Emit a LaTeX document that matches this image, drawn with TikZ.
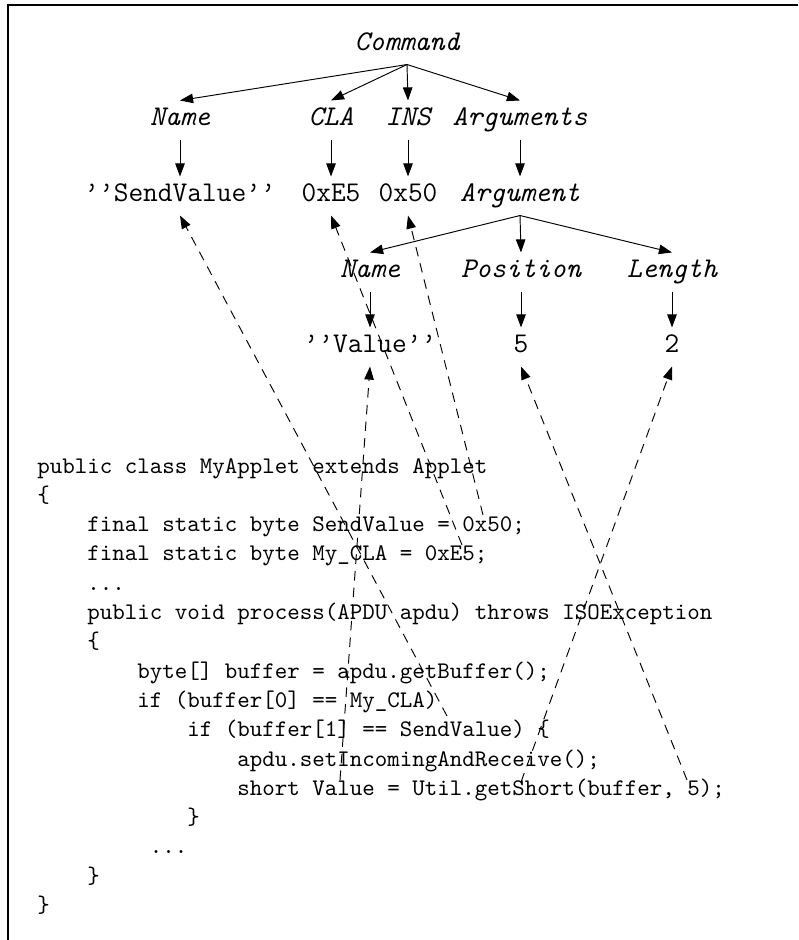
\documentclass[tikz,border=0pt]{standalone}
\usetikzlibrary{arrows.meta}

\begin{document}
\begin{tikzpicture}[
  x=0.42pt, y=-0.42pt,
  every node/.style={inner sep=0pt},
  field/.style={font=\large\ttfamily\itshape, text height=7pt, text depth=2pt, minimum height=16pt},
  value/.style={font=\large\ttfamily, text height=7pt, text depth=2pt, minimum height=16pt},
  code/.style={font=\ttfamily, anchor=base west},
  edge/.style={-{Triangle[length=5.5pt,width=4pt]}},
  link/.style={-{Triangle[length=5.5pt,width=4pt]}, dash pattern=on 4pt off 3pt},
]
  \useasboundingbox (0,0) rectangle (798,940);
  \draw[line width=0.8pt] (8,940) -- (8,5) -- (798,5);

  % Command tree
  \node[field] (cmd)   at (407,45)  {Command};
  \node[field] (name)  at (180,120) {Name};
  \node[field] (cla)   at (331,120) {CLA};
  \node[field] (ins)   at (408,120) {INS};
  \node[field] (args)  at (520,120) {Arguments};
  \node[value] (sendv) at (180,196) {\textquoteright\textquoteright SendValue\textquoteright\textquoteright};
  \node[value] (e5)    at (331,196) {0xE5};
  \node[value] (x50)   at (408,196) {0x50};
  \node[field] (arg)   at (520,196) {Argument};
  \node[field] (aname) at (370,272) {Name};
  \node[field] (pos)   at (521,272) {Position};
  \node[field] (len)   at (672,272) {Length};
  \node[value] (valq)  at (370,347) {\textquoteright\textquoteright Value\textquoteright\textquoteright};
  \node[value] (five)  at (521,347) {5};
  \node[value] (two)   at (672,347) {2};

  \foreach \c in {name,cla,ins,args}
    \draw[edge] (cmd.south) -- (\c.north);
  \foreach \c in {aname,pos,len}
    \draw[edge] (arg.south) -- (\c.north);
  \foreach \a/\b in {name/sendv,cla/e5,ins/x50,args/arg,aname/valq,pos/five,len/two}
    \draw[edge] (\a) -- (\b);

  % Applet source
  \node[code] (l0)  at (37,473.0)    {public class MyApplet extends Applet};
  \node[code] (l1)  at (37,502.3)    {\{};
  \node[code] (l2)  at (87,531.6)    {final static byte SendValue = 0x50;};
  \node[code] (l3)  at (87,560.9)    {final static byte My\_CLA = 0xE5;};
  \node[code] (l4)  at (87,590.2)    {...};
  \node[code] (l5)  at (87,619.5)    {public void process(APDU apdu) throws ISOException};
  \node[code] (l6)  at (87,648.8)    {\{};
  \node[code] (l7)  at (137,678.1)   {byte[] buffer = apdu.getBuffer();};
  \node[code] (l8)  at (137,707.4)   {if (buffer[0] == My\_CLA)};
  \node[code] (l9)  at (187,736.7)   {if (buffer[1] == SendValue) \{};
  \node[code] (l10) at (237,766.0)   {apdu.setIncomingAndReceive();};
  \node[code] (l11) at (237,795.3)   {short Value = Util.getShort(buffer, 5);};
  \node[code] (l12) at (187,824.6)   {\}};
  \node[code] (l13) at (149.5,853.9) {...};
  \node[code] (l14) at (87,883.2)    {\}};
  \node[code] (l15) at (37,912.5)    {\}};

  % Links from the source back to the tree
  \coordinate (cSend)  at (447,716);
  \coordinate (cX50)   at (483,515);
  \coordinate (cE5)    at (462,545);
  \coordinate (cVal)   at (340,780);
  \coordinate (cShort) at (521,782);
  \coordinate (cFive)  at (687,780);

  \draw[link] (cSend)  -- (sendv.south);
  \draw[link] (cE5)    -- (e5.south);
  \draw[link] (cX50)   -- (x50.south);
  \draw[link] (cVal)   -- (valq.south);
  \draw[link] (cFive)  -- (five.south);
  \draw[link] (cShort) -- (two.south);
\end{tikzpicture}
\end{document}
